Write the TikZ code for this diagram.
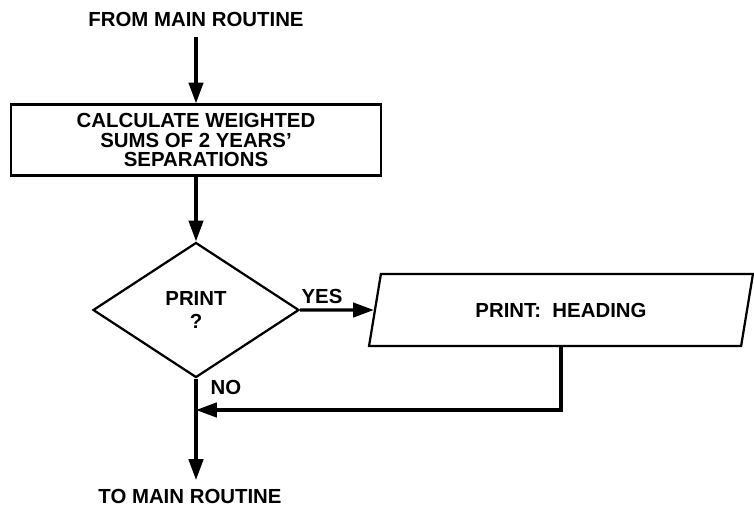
\documentclass[tikz,border=0pt]{standalone}
\usepackage{fontspec}
\setmainfont{Liberation Sans}
\usetikzlibrary{shapes.geometric,arrows.meta}

\begin{document}
\begin{tikzpicture}[x=0.025cm, y=-0.025cm, >={Triangle[length=5.2mm,width=3.6mm]}]
    \tikzstyle{every node}=[font=\fontsize{14.5}{14}\selectfont\bfseries, align=center]
    \tikzstyle{process}=[draw, line width=1.6pt, minimum width=9.25cm, minimum height=1.775cm]
    \tikzstyle{decision}=[draw, diamond, aspect=1.53, line width=1.6pt, minimum width=5.15cm, minimum height=3.375cm, inner sep=0pt]
    \tikzstyle{io}=[draw, trapezium, trapezium left angle=76, trapezium right angle=104, trapezium stretches=true, line width=1.6pt, minimum width=9.6cm, minimum height=1.8cm]
    \tikzstyle{flow}=[->, line width=2.3pt]
    \useasboundingbox (0,0) rectangle (754,509);
    \node (from) at (196,19) {FROM MAIN ROUTINE};
    \node [process] (calc) at (196,140) {CALCULATE WEIGHTED\\SUMS OF 2 YEARS'\\SEPARATIONS};
    \node [decision] (print) at (196,310) {PRINT\\[2pt]?};
    \node [io] (heading) at (561,310) {PRINT: \ HEADING};
    \node (yes) at (322,296) {YES};
    \node (no) at (226,387) {NO};
    \node [inner sep=1pt] (to) at (190,496) {TO MAIN ROUTINE};
    \coordinate (join) at (196,410);
    \coordinate (exit) at (196,480);
    \draw [flow, shorten <=4pt] (from) -- (calc);
    \draw [flow] (calc) -- (print);
    \draw [flow] (print) -- (heading);
    \draw [flow] (heading.south) |- (join);
    \draw [flow] (print) -- (exit);
\end{tikzpicture}
\end{document}
